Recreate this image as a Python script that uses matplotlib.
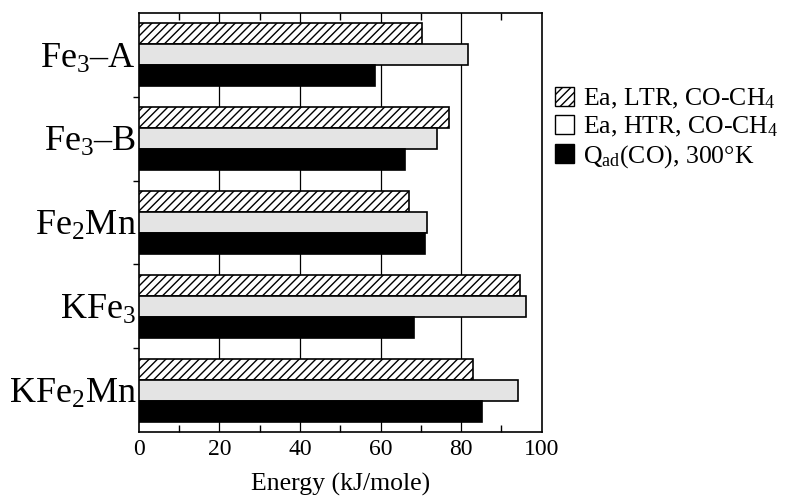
import numpy as np
import matplotlib
matplotlib.use('Agg')
import matplotlib.pyplot as plt
from matplotlib.patches import Patch
from matplotlib.ticker import MultipleLocator

plt.rcParams['font.family'] = ['Liberation Serif', 'DejaVu Serif']
plt.rcParams['mathtext.fontset'] = 'custom'
plt.rcParams['mathtext.rm'] = 'Liberation Serif'
plt.rcParams['mathtext.it'] = 'Liberation Serif:italic'
plt.rcParams['hatch.linewidth'] = 1.0

catalysts = [r'Fe$_{\mathrm{3}}$–A', r'Fe$_{\mathrm{3}}$–B', r'Fe$_{\mathrm{2}}$Mn',
             r'KFe$_{\mathrm{3}}$', r'KFe$_{\mathrm{2}}$Mn']
ea_ltr = [70.4, 77.1, 67.0, 94.7, 83.0]
ea_htr = [81.6, 74.1, 71.6, 96.1, 94.1]
q_ad = [58.7, 66.0, 71.0, 68.2, 85.1]
series_labels = [r'Ea, LTR, CO-CH$_{\mathrm{4}}$', r'Ea, HTR, CO-CH$_{\mathrm{4}}$',
                 r'Q$_{\mathrm{ad}}$(CO), 300°K']


def run():
    fig = plt.figure(figsize=(7.85, 4.98), dpi=100)
    ax = fig.add_axes([0.177, 0.1325, 0.513, 0.8415])

    n = len(catalysts)
    y = np.arange(n)
    h = 0.25
    ax.barh(y - h, ea_ltr, height=h, facecolor='white', edgecolor='black',
            hatch='////', linewidth=1.2, zorder=3)
    ax.barh(y, ea_htr, height=h, facecolor='#e4e4e4', edgecolor='black',
            linewidth=1.2, zorder=3)
    ax.barh(y + h, q_ad, height=h, facecolor='black', edgecolor='black',
            linewidth=1.2, zorder=3)

    for gx in [20, 40, 60, 80]:
        ax.axvline(gx, color='black', linewidth=0.9, zorder=1)

    ax.set_xlim(0, 100)
    ax.set_ylim(n - 0.5, -0.5)
    ax.set_yticks(y)
    ax.set_yticklabels(catalysts, fontsize=26)
    ax.tick_params(axis='y', which='major', length=0, pad=2)
    ax.set_yticks(np.arange(n - 1) + 0.5, minor=True)
    ax.tick_params(axis='y', which='minor', length=4, direction='out', width=1)

    ax.xaxis.set_major_locator(MultipleLocator(20))
    ax.xaxis.set_minor_locator(MultipleLocator(10))
    ax.tick_params(axis='x', which='both', direction='in', top=True,
                   labelsize=17, width=1)
    ax.tick_params(axis='x', which='major', length=0, pad=5)
    ax.tick_params(axis='x', which='minor', length=5)
    ax.set_xlabel('Energy (kJ/mole)', fontsize=18.5, labelpad=9)

    for sp in ax.spines.values():
        sp.set_linewidth(1.2)

    handles = [Patch(facecolor='white', edgecolor='black', hatch='////'),
               Patch(facecolor='white', edgecolor='black'),
               Patch(facecolor='black', edgecolor='black')]
    fig.legend(handles, series_labels, loc='upper left',
               bbox_to_anchor=(0.694, 0.846), frameon=False, fontsize=18.5,
               handlelength=0.75, handleheight=0.75, handletextpad=0.35,
               labelspacing=0.15, borderaxespad=0)

    fig.savefig('out.png', dpi=100)


if __name__ == '__main__':
    run()
